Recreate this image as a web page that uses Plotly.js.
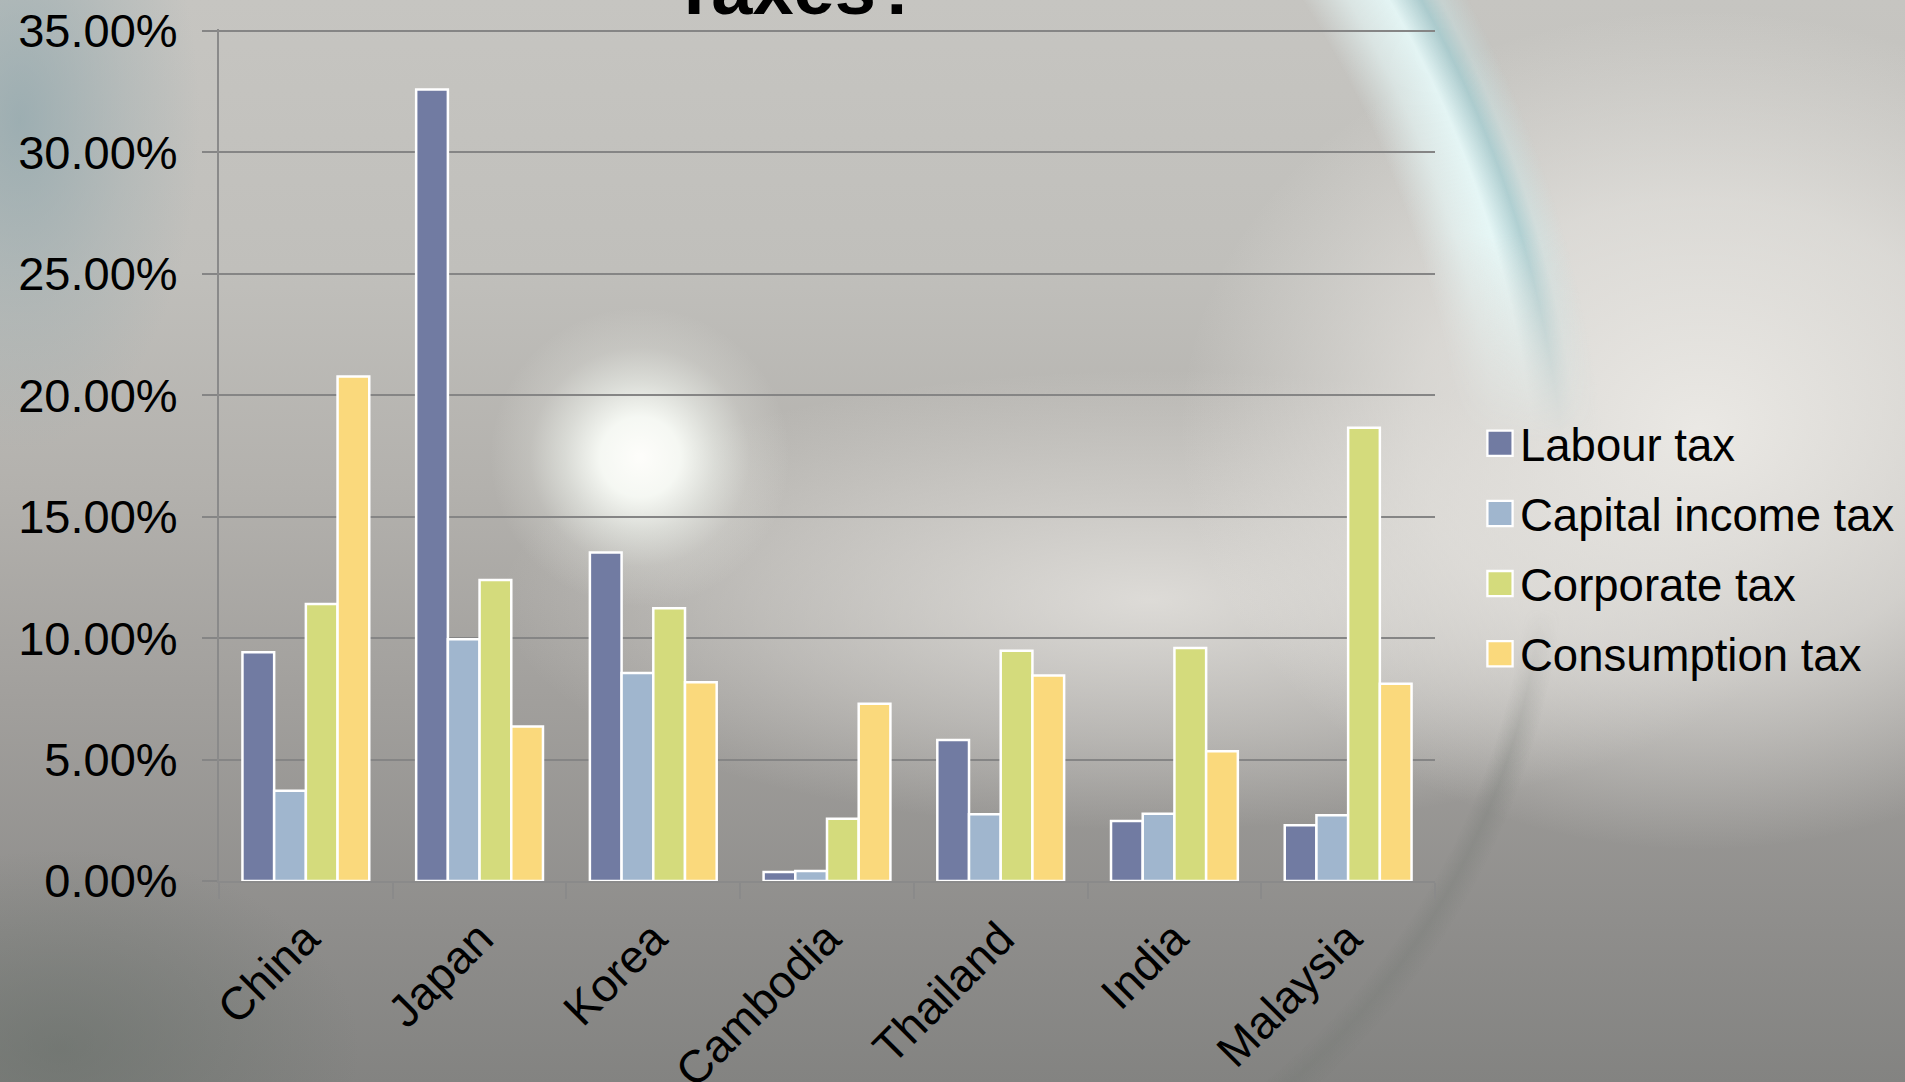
<!DOCTYPE html>
<html>
<head>
<meta charset="utf-8">
<script src="https://cdn.plot.ly/plotly-3.0.1.min.js"></script>
<style>
  html, body { margin: 0; padding: 0; width: 1905px; height: 1082px; overflow: hidden; }
  body {
    position: relative;
    background:
      radial-gradient(circle at 640px 457px, rgba(255,255,252,0.98) 0px, rgba(252,255,250,0.9) 40px, rgba(246,250,244,0.55) 75px, rgba(240,242,236,0.2) 110px, rgba(240,240,235,0) 150px),
      radial-gradient(ellipse 520px 420px at 1700px 430px, rgba(240,238,234,0.9) 0%, rgba(236,234,230,0.6) 55%, rgba(230,228,224,0) 100%),
      radial-gradient(ellipse 650px 230px at 1150px 600px, rgba(238,236,232,0.75) 0%, rgba(232,230,226,0.35) 60%, rgba(228,226,222,0) 100%),
      radial-gradient(ellipse 180px 330px at 20px 120px, rgba(140,165,172,0.7) 0%, rgba(150,170,175,0.3) 60%, rgba(150,170,175,0) 100%),
      radial-gradient(ellipse 300px 200px at 60px 1050px, rgba(100,108,102,0.55) 0%, rgba(100,108,102,0) 100%),
      linear-gradient(to bottom, #c6c5c1 0%, #c0bfbb 25%, #b3b1ad 45%, #a19f9c 65%, #8f8e8c 85%, #838381 100%);
  }
  .ring { position: absolute; pointer-events: none; }
  #ringTop {
    left: 1250px; top: 0px; width: 655px; height: 520px;
    background: radial-gradient(circle at -825px 560px, rgba(220,245,248,0) 1040px, rgba(235,255,255,0.55) 1080px, rgba(232,252,252,0.85) 1115px, rgba(160,205,210,0.7) 1143px, rgba(200,230,232,0.4) 1160px, rgba(220,240,240,0) 1185px);
    -webkit-mask-image: linear-gradient(to bottom, #000 0%, #000 45%, transparent 85%);
    mask-image: linear-gradient(to bottom, #000 0%, #000 45%, transparent 85%);
  }
  #ringBottom {
    left: 1250px; top: 450px; width: 655px; height: 632px;
    background: radial-gradient(circle at -448px 70px, rgba(120,125,120,0) 728px, rgba(115,120,115,0.3) 745px, rgba(120,125,120,0) 765px);
    -webkit-mask-image: linear-gradient(to bottom, transparent 0%, transparent 25%, #000 50%, #000 100%);
    mask-image: linear-gradient(to bottom, transparent 0%, transparent 25%, #000 50%, #000 100%);
  }
  #chart { position: absolute; left: 0; top: 0; width: 1905px; height: 1082px; z-index: 1; }
</style>
</head>
<body>
<div class="ring" id="ringTop"></div>
<div class="ring" id="ringBottom"></div>
<div id="chart"></div>
<script>
const categories = ["China", "Japan", "Korea", "Cambodia", "Thailand", "India", "Malaysia"];
const seriesNames = ["Labour tax", "Capital income tax", "Corporate tax", "Consumption tax"];
const labourTax = [9.42, 32.59, 13.53, 0.37, 5.81, 2.47, 2.30];
const capitalIncomeTax = [3.72, 9.95, 8.56, 0.41, 2.75, 2.77, 2.71];
const corporateTax = [11.40, 12.39, 11.23, 2.56, 9.48, 9.59, 18.66];
const consumptionTax = [20.77, 6.36, 8.18, 7.30, 8.46, 5.34, 8.12];
const yTickValues = [0, 5, 10, 15, 20, 25, 30, 35];
const yTickLabels = ["0.00%", "5.00%", "10.00%", "15.00%", "20.00%", "25.00%", "30.00%", "35.00%"];

const colors = ["#717ba2", "#a0b6ce", "#d4db7c", "#fad97c"];
const seriesValues = [labourTax, capitalIncomeTax, corporateTax, consumptionTax];

const FONT = "Liberation Sans, Arial, sans-serif";

const traces = seriesValues.map((vals, i) => ({
  type: "bar",
  name: seriesNames[i],
  x: categories,
  y: vals,
  legendgroup: "g" + i,
  marker: { color: colors[i], line: { color: "#ffffff", width: 2.5 } },
  hovertemplate: "%{x}<br>%{y:.2f}%<extra>" + seriesNames[i] + "</extra>"
}));

const layout = {
  width: 1905,
  height: 1082,
  paper_bgcolor: "rgba(0,0,0,0)",
  plot_bgcolor: "rgba(0,0,0,0)",
  margin: { l: 219, r: 470, t: 29, b: 201, pad: 0, autoexpand: false },
  barmode: "group",
  bargap: 0.27,
  bargroupgap: 0,
  font: { family: FONT, color: "#000000", size: 44 },
  title: {
    text: "Taxes?",
    font: { family: FONT, size: 74, color: "#000000", weight: "bold" },
    xref: "container",
    x: 0.418,
    xanchor: "center",
    yref: "paper",
    y: 1,
    yanchor: "bottom",
    pad: { b: 15 }
  },
  xaxis: {
    type: "category",
    tickangle: -45,
    tickfont: { family: FONT, size: 46, color: "#000000" },
    ticks: "outside",
    tickson: "boundaries",
    ticklen: 16,
    tickwidth: 2,
    tickcolor: "#8a8a8a",
    ticklabelstandoff: 10,
    showline: true,
    linecolor: "#8a8a8a",
    linewidth: 2,
    showgrid: false,
    zeroline: false,
    automargin: false
  },
  yaxis: {
    range: [0, 35.08],
    tickmode: "array",
    tickvals: yTickValues,
    ticktext: yTickLabels,
    tickfont: { family: FONT, size: 47, color: "#000000" },
    ticks: "outside",
    ticklen: 15,
    tickwidth: 2,
    tickcolor: "#858585",
    ticklabelstandoff: 15,
    showgrid: true,
    gridcolor: "#858585",
    gridwidth: 2,
    showline: true,
    linecolor: "#8a8a8a",
    linewidth: 2,
    zeroline: false,
    automargin: false
  },
  legend: {
    x: 1.037,
    xanchor: "left",
    y: 0.39,
    yanchor: "middle",
    bgcolor: "rgba(0,0,0,0)",
    borderwidth: 0,
    font: { family: FONT, size: 45.5, color: "#000000" },
    tracegroupgap: 8,
    traceorder: "grouped"
  },
  showlegend: true
};

function enlargeLegendSymbols() {
  document.querySelectorAll("#chart .legend .legendpoints path").forEach(p => {
    if (p.dataset.scaled) return;
    const t = p.getAttribute("transform") || "";
    p.setAttribute("transform", t + " scale(2.1)");
    p.style.strokeWidth = "1.1px";
    p.dataset.scaled = "1";
  });
}

Plotly.newPlot("chart", traces, layout, { displayModeBar: false }).then(gd => {
  enlargeLegendSymbols();
  gd.on("plotly_afterplot", enlargeLegendSymbols);
});
</script>
</body>
</html>
